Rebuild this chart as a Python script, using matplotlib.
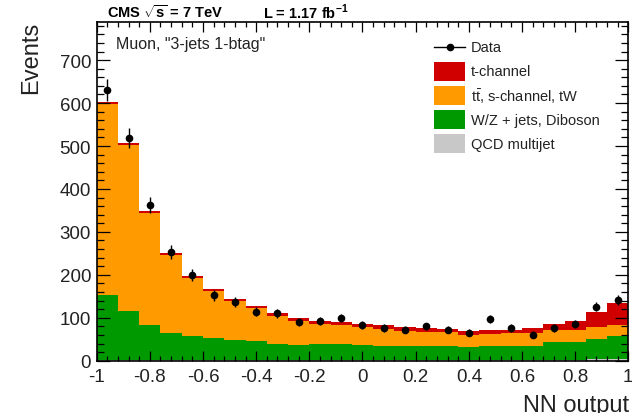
import numpy as np
import matplotlib
matplotlib.use('Agg')
import matplotlib.pyplot as plt
from matplotlib.patches import Rectangle
from matplotlib.lines import Line2D
from matplotlib.ticker import MultipleLocator, FixedLocator

plt.rcParams['font.family'] = ['Liberation Sans', 'DejaVu Sans']
plt.rcParams['axes.unicode_minus'] = False
plt.rcParams['mathtext.fontset'] = 'custom'
plt.rcParams['mathtext.rm'] = 'Liberation Sans'
plt.rcParams['mathtext.bf'] = 'Liberation Sans:bold'

# ---- data ----
bin_edges = np.linspace(-1, 1, 26)
qcd = [2, 2, 2, 1, 1, 1, 1, 1, 1, 1, 1, 1, 1, 1, 1, 1, 1, 1, 1, 1, 1, 2, 2, 3, 4]
green_top = [152, 115, 82, 65, 58, 54, 49, 46, 38, 36, 39, 39, 37, 35, 35, 35, 35, 33, 35, 35, 35, 43, 43, 51, 58]
total = [603, 508, 348, 251, 197, 167, 144, 127, 111, 99, 93, 91, 86, 82, 78, 76, 74, 70, 72, 72, 76, 86, 92, 113, 134]
tchan = [5, 5, 5, 5, 5, 5, 5, 5, 6, 6, 7, 7, 8, 8, 8, 8, 8, 9, 10, 8, 12, 14, 20, 34, 52]
data = [630, 519, 363, 253, 200, 152, 136, 114, 111, 91, 93, 99, 83, 76, 72, 80, 72, 65, 97, 76, 61, 76, 86, 126, 142]
xtick_vals = [-1, -0.8, -0.6, -0.4, -0.2, 0, 0.2, 0.4, 0.6, 0.8, 1]
xtick_labels = ['-1', '-0.8', '-0.6', '-0.4', '-0.2', '0', '0.2', '0.4', '0.6', '0.8', '1']
ytick_vals = [0, 100, 200, 300, 400, 500, 600, 700]

qcd = np.array(qcd, float)
wz = np.array(green_top, float) - qcd
top_ = np.array(total, float) - np.array(tchan, float) - np.array(green_top, float)
tchan = np.array(tchan, float)
data = np.array(data, float)

W, H = 632, 414
fig = plt.figure(figsize=(W / 100, H / 100), dpi=100)
ax = fig.add_axes([96.7 / W, 1 - 361.7 / H, (628.3 - 96.7) / W, (361.7 - 22.5) / H])

col_red = '#d00000'
col_orange = '#ff9a00'
col_green = '#009a00'
col_gray = '#c8c8c8'

layers = [(qcd, col_gray), (wz, col_green), (top_, col_orange), (tchan, col_red)]
base = np.zeros(25)
for vals, c in layers:
    ax.stairs(base + vals, bin_edges, baseline=base.copy(), fill=True, color=c, lw=0)
    base = base + vals

centers = 0.5 * (bin_edges[1:] + bin_edges[:-1])
ax.errorbar(centers, data, yerr=np.sqrt(data), fmt='o', color='black', ms=4.5,
            elinewidth=1.0, capsize=0, zorder=5)

ax.set_xlim(-1, 1)
ax.set_ylim(0, 790)
ax.xaxis.set_major_locator(FixedLocator(xtick_vals))
ax.xaxis.set_minor_locator(MultipleLocator(0.04))
ax.set_xticklabels(xtick_labels)
ax.yaxis.set_major_locator(FixedLocator(ytick_vals))
ax.yaxis.set_minor_locator(MultipleLocator(20))
ax.tick_params(which='both', direction='in', top=True, right=True, width=0.9, colors='black')
ax.tick_params(axis='x', which='major', length=7.5, labelsize=13.5, pad=5)
ax.tick_params(axis='x', which='minor', length=3.8)
ax.tick_params(axis='y', which='major', length=9.5, labelsize=13.5, pad=4)
ax.tick_params(axis='y', which='minor', length=4.8)
for s in ax.spines.values():
    s.set_linewidth(1.2)
for lab in ax.get_xticklabels() + ax.get_yticklabels():
    lab.set_color('#222222')

def fx(x):
    return x / W

def fy(y):
    return 1 - y / H

fig.text(fx(31), fy(22), 'Events', rotation=90, ha='center', va='top', fontsize=17, color='#222222')
fig.text(fx(629), fy(395), 'NN output', ha='right', va='top', fontsize=17, color='#222222')

fig.text(fx(116), fy(45), 'Muon, "3-jets 1-btag"', ha='left', va='center',
         fontsize=11.5, color='#222222')

fig.text(fx(107), fy(12), r'CMS $\mathbf{\sqrt{s}}$ = 7 TeV', ha='left', va='center', fontsize=10.5,
         weight='bold')
fig.text(fx(263), fy(12), r'L = 1.17 fb$^{\mathbf{-1}}$', ha='left', va='center', fontsize=10.5,
         weight='bold')

# legend
entries = [('Data', None), ('t-channel', col_red), (r't$\bar{\mathrm{t}}$, s-channel, tW', col_orange),
           ('W/Z + jets, Diboson', col_green), ('QCD multijet', col_gray)]
for i, (lab, c) in enumerate(entries):
    yc = 47.7 + 24.3 * i
    if c is None:
        fig.add_artist(Line2D([fx(434), fx(465)], [fy(yc), fy(yc)], color='black', lw=1.0))
        fig.add_artist(Line2D([fx(449.5)], [fy(yc)], marker='o', color='black', ms=4.5))
    else:
        fig.add_artist(Rectangle((fx(434), fy(yc + 9.5)), 31 / W, 19 / H, facecolor=c, edgecolor='none',
                                 transform=fig.transFigure))
    fig.text(fx(470.7), fy(yc), lab, ha='left', va='center', fontsize=10.5, color='#222222')

fig.savefig('out.png', dpi=100)
